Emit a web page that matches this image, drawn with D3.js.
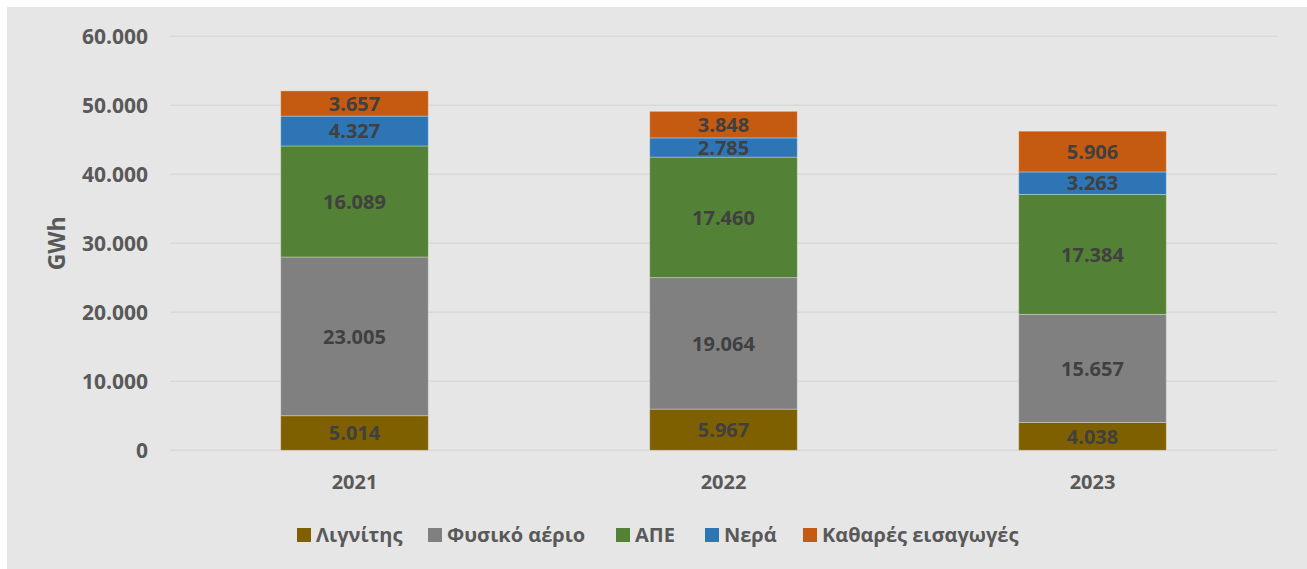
<!DOCTYPE html>
<html>
<head>
<meta charset="utf-8">
<script src="https://cdn.jsdelivr.net/npm/d3@7"></script>
<style>
  body { margin: 0; background: #ffffff; }
  text { font-family: "Open Sans", "Noto Sans", sans-serif; font-weight: bold; }
</style>
</head>
<body>
<div id="chart"></div>
<script>
/* DATA */
var years = ["2021", "2022", "2023"];
var seriesNames = ["Λιγνίτης", "Φυσικό αέριο", "ΑΠΕ", "Νερά", "Καθαρές εισαγωγές"];
var lignite = [5014, 5967, 4038];
var gas = [23005, 19064, 15657];
var res = [16089, 17460, 17384];
var hydro = [4327, 2785, 3263];
var imports = [3657, 3848, 5906];
var yTicks = [0, 10000, 20000, 30000, 40000, 50000, 60000];
var colors = ["#7f6000", "#808080", "#538135", "#2e75b6", "#c55a11"];

var w = 1307;
var h = 569;

var svg = d3.select("#chart")
    .append("svg")
    .attr("width", w)
    .attr("height", h);

// chart area background
svg.append("rect")
    .attr("x", 7)
    .attr("y", 7)
    .attr("width", w - 7)
    .attr("height", h - 7)
    .attr("fill", "#e6e6e6");

var plotLeft = 170, plotRight = 1277, plotTop = 36.3, plotBottom = 450.3;

var xScale = d3.scaleBand()
    .domain(years)
    .range([plotLeft, plotRight])
    .paddingInner(0.6)
    .paddingOuter(0.3);

var yScale = d3.scaleLinear()
    .domain([0, 60000])
    .range([plotBottom, plotTop]);

// greek number format: dot as thousands separator
var fmt = d3.formatLocale({ decimal: ",", thousands: ".", grouping: [3], currency: ["", "€"] }).format(",d");

/* GRIDLINES */
svg.append("g")
    .selectAll("line")
    .data(yTicks)
    .enter()
    .append("line")
    .attr("x1", plotLeft)
    .attr("x2", plotRight)
    .attr("y1", d => yScale(d))
    .attr("y2", d => yScale(d))
    .attr("stroke", "#d9d9d9")
    .attr("stroke-width", 1.5);

/* STACKED BARS */
var table = years.map(function (y, i) {
    return {
        year: y,
        "Λιγνίτης": lignite[i],
        "Φυσικό αέριο": gas[i],
        "ΑΠΕ": res[i],
        "Νερά": hydro[i],
        "Καθαρές εισαγωγές": imports[i]
    };
});

var stacked = d3.stack().keys(seriesNames)(table);

var groups = svg.selectAll("g.series")
    .data(stacked)
    .enter()
    .append("g")
    .attr("class", "series")
    .attr("fill", (d, i) => colors[i]);

groups.selectAll("rect")
    .data(d => d)
    .enter()
    .append("rect")
    .attr("x", d => xScale(d.data.year))
    .attr("width", xScale.bandwidth())
    .attr("y", d => yScale(d[1]))
    .attr("height", d => yScale(d[0]) - yScale(d[1]))
    .attr("stroke", "rgba(255,255,255,0.3)")
    .attr("stroke-width", 1);

groups.selectAll("text")
    .data(d => d)
    .enter()
    .append("text")
    .attr("x", d => xScale(d.data.year) + xScale.bandwidth() / 2)
    .attr("y", d => (yScale(d[0]) + yScale(d[1])) / 2)
    .attr("dy", "0.36em")
    .attr("text-anchor", "middle")
    .style("font-size", "20px")
    .style("fill", "#404040")
    .text(d => fmt(d[1] - d[0]));

/* AXES LABELS */
svg.append("g")
    .selectAll("text")
    .data(yTicks)
    .enter()
    .append("text")
    .attr("x", 148)
    .attr("y", d => yScale(d))
    .attr("dy", "0.36em")
    .attr("text-anchor", "end")
    .style("font-size", "21px")
    .style("fill", "#595959")
    .text(d => fmt(d));

svg.append("g")
    .selectAll("text")
    .data(years)
    .enter()
    .append("text")
    .attr("x", d => xScale(d) + xScale.bandwidth() / 2)
    .attr("y", 482)
    .attr("dy", "0.36em")
    .attr("text-anchor", "middle")
    .style("font-size", "20px")
    .style("fill", "#595959")
    .text(d => d);

svg.append("text")
    .attr("transform", "translate(57," + ((plotTop + plotBottom) / 2) + ") rotate(-90)")
    .attr("dy", "0.36em")
    .attr("text-anchor", "middle")
    .style("font-size", "23px")
    .style("fill", "#595959")
    .text("GWh");

/* LEGEND */
var legendX = [297, 428, 616, 705, 803];
var legend = svg.append("g")
    .selectAll("g")
    .data(seriesNames)
    .enter()
    .append("g")
    .attr("transform", (d, i) => "translate(" + legendX[i] + ",528)");

legend.append("rect")
    .attr("width", 14)
    .attr("height", 14)
    .attr("fill", (d, i) => colors[i]);

legend.append("text")
    .attr("x", 19)
    .attr("y", 7)
    .attr("dy", "0.36em")
    .style("font-size", "20px")
    .style("fill", "#595959")
    .text(d => d);
</script>
</body>
</html>
